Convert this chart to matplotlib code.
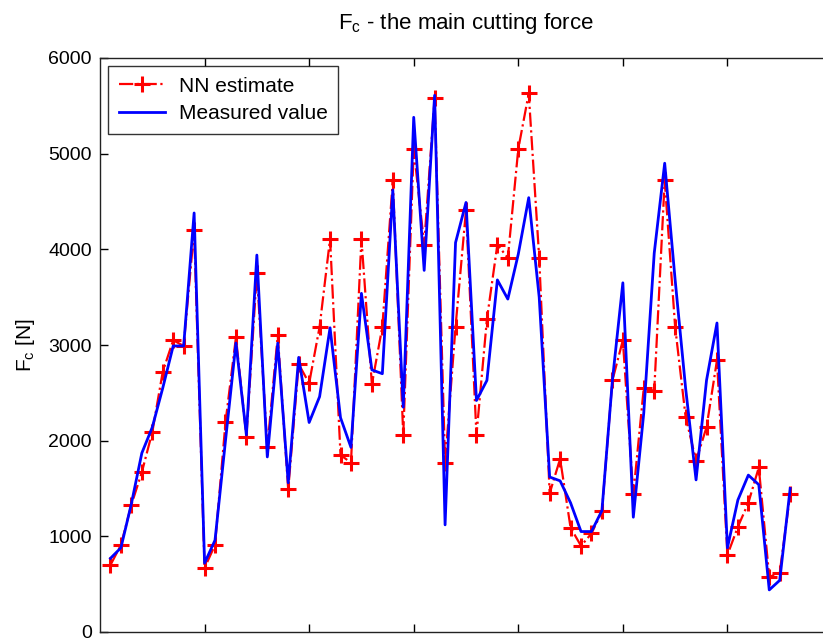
import matplotlib
matplotlib.use("Agg")
import matplotlib.pyplot as plt
import numpy as np

plt.rcParams['font.family'] = ['Liberation Sans', 'DejaVu Sans']

sample = list(range(1, 67))
nn_estimate = [700, 910, 1330, 1670, 2090, 2720, 3050, 2990, 4200, 670,
               910, 2190, 3080, 2040, 3750, 1930, 3100, 1490, 2800, 2600,
               3190, 4110, 1850, 1770, 4110, 2590, 3190, 4720, 2060, 5050,
               4050, 5580, 1770, 3190, 4410, 2060, 3270, 4050, 3910, 5050,
               5630, 3910, 1450, 1810, 1090, 900, 1030, 1260, 2630, 3050,
               1440, 2550, 2520, 4720, 3190, 2250, 1790, 2140, 2840, 805,
               1100, 1350, 1720, 575, 620, 1440]
measured = [770, 880, 1340, 1870, 2140, 2550, 2990, 2990, 4380, 720,
            960, 2000, 3020, 2060, 3940, 1830, 3020, 1560, 2870, 2190,
            2460, 3180, 2240, 1930, 3540, 2740, 2700, 4620, 2350, 5380,
            3780, 5610, 1120, 4070, 4490, 2420, 2630, 3680, 3480, 3950,
            4540, 3500, 1620, 1580, 1350, 1050, 1050, 1270, 2630, 3650,
            1200, 2290, 3960, 4900, 3680, 2550, 1590, 2630, 3230, 880,
            1380, 1640, 1540, 440, 540, 1500]
y_ticks = [0, 1000, 2000, 3000, 4000, 5000, 6000]
x_ticks = [10, 20, 30, 40, 50, 60, 70]

fig = plt.figure(figsize=(8.23, 6.39), dpi=100)
ax = fig.add_axes([100/823, 7/639, 732/823, 574/639])

ax.plot(sample, nn_estimate, color='red', linestyle='-.', linewidth=1.6,
        marker='+', markersize=11, markeredgewidth=2.2, label='NN estimate')
ax.plot(sample, measured, color='#0000ff', linestyle='-', linewidth=2.0,
        label='Measured value')

ax.set_xlim(0, 70)
ax.set_ylim(0, 6000)
ax.set_yticks(y_ticks)
ax.set_xticks(x_ticks)
ax.tick_params(direction='in', top=True, right=True, length=6, labelsize=14,
               width=1.0, pad=6)
ax.tick_params(axis='x', labelbottom=False)
for s in ax.spines.values():
    s.set_linewidth(1.0)
    s.set_color('#222222')

ax.set_title(r'F$_\mathregular{c}$ - the main cutting force', fontsize=16, pad=21)
ax.set_ylabel(r'F$_\mathregular{c}$ [N]', fontsize=15, labelpad=8)

leg = ax.legend(loc='upper left', fontsize=15, frameon=True, fancybox=False,
                edgecolor='black', borderaxespad=0.4, handlelength=2.2,
                borderpad=0.5, labelspacing=0.4, handletextpad=0.7)
leg.get_frame().set_linewidth(1.0)

fig.savefig('out.png', dpi=100)
